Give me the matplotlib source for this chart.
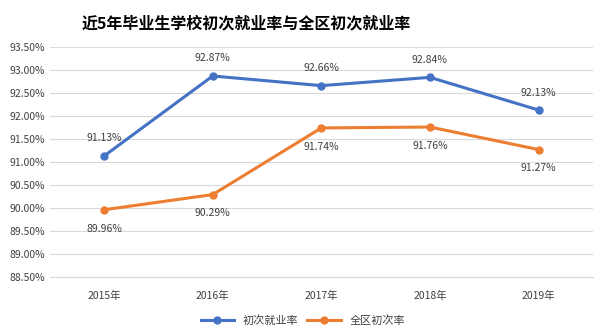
import matplotlib
matplotlib.use("Agg")
import matplotlib.pyplot as plt

plt.rcParams['font.family'] = ['Noto Sans CJK SC', 'DejaVu Sans']

years = ["2015年", "2016年", "2017年", "2018年", "2019年"]
school_rate = [91.13, 92.87, 92.66, 92.84, 92.13]
district_rate = [89.96, 90.29, 91.74, 91.76, 91.27]
yticks = [88.5, 89.0, 89.5, 90.0, 90.5, 91.0, 91.5, 92.0, 92.5, 93.0, 93.5]

blue = '#4472C4'
orange = '#ED7D31'
text_col = '#404040'

fig = plt.figure(figsize=(6, 3.36), dpi=100)
ax = fig.add_axes([0.083, 0.176, 0.905, 0.684])

x = list(range(len(years)))
ax.plot(x, school_rate, color=blue, lw=2.2, marker='o', ms=5, label="初次就业率")
ax.plot(x, district_rate, color=orange, lw=2.2, marker='o', ms=5, label="全区初次率")

for i, v in enumerate(school_rate):
    ax.annotate(f"{v:.2f}%", (i, v), xytext=(0, 9), textcoords='offset points',
                ha='center', va='bottom', fontsize=7.5, color=text_col)
for i, v in enumerate(district_rate):
    ax.annotate(f"{v:.2f}%", (i, v), xytext=(0, -10), textcoords='offset points',
                ha='center', va='top', fontsize=7.5, color=text_col)

ax.set_xlim(-0.5, len(years) - 0.5)
ax.set_ylim(88.5, 93.5)
ax.set_yticks(yticks)
ax.set_yticklabels([f"{t:.2f}%" for t in yticks])
ax.set_xticks(x)
ax.set_xticklabels(years)
ax.tick_params(axis='both', length=0, labelsize=7.5, colors=text_col)
ax.tick_params(axis='x', pad=10)
ax.grid(axis='y', color='#D9D9D9', lw=0.8)
ax.set_axisbelow(True)
for s in ['top', 'right', 'left']:
    ax.spines[s].set_visible(False)
ax.spines['bottom'].set_color('#D9D9D9')

fig.text(0.41, 0.93, "近5年毕业生学校初次就业率与全区初次就业率", ha='center', va='center',
         fontsize=11.5, fontweight='bold', color='black')

fig.legend(loc='center', bbox_to_anchor=(0.505, 0.045), ncol=2, frameon=False,
           fontsize=8, handlelength=3, columnspacing=0.8, labelcolor=text_col)

fig.savefig("out.png", dpi=100)
